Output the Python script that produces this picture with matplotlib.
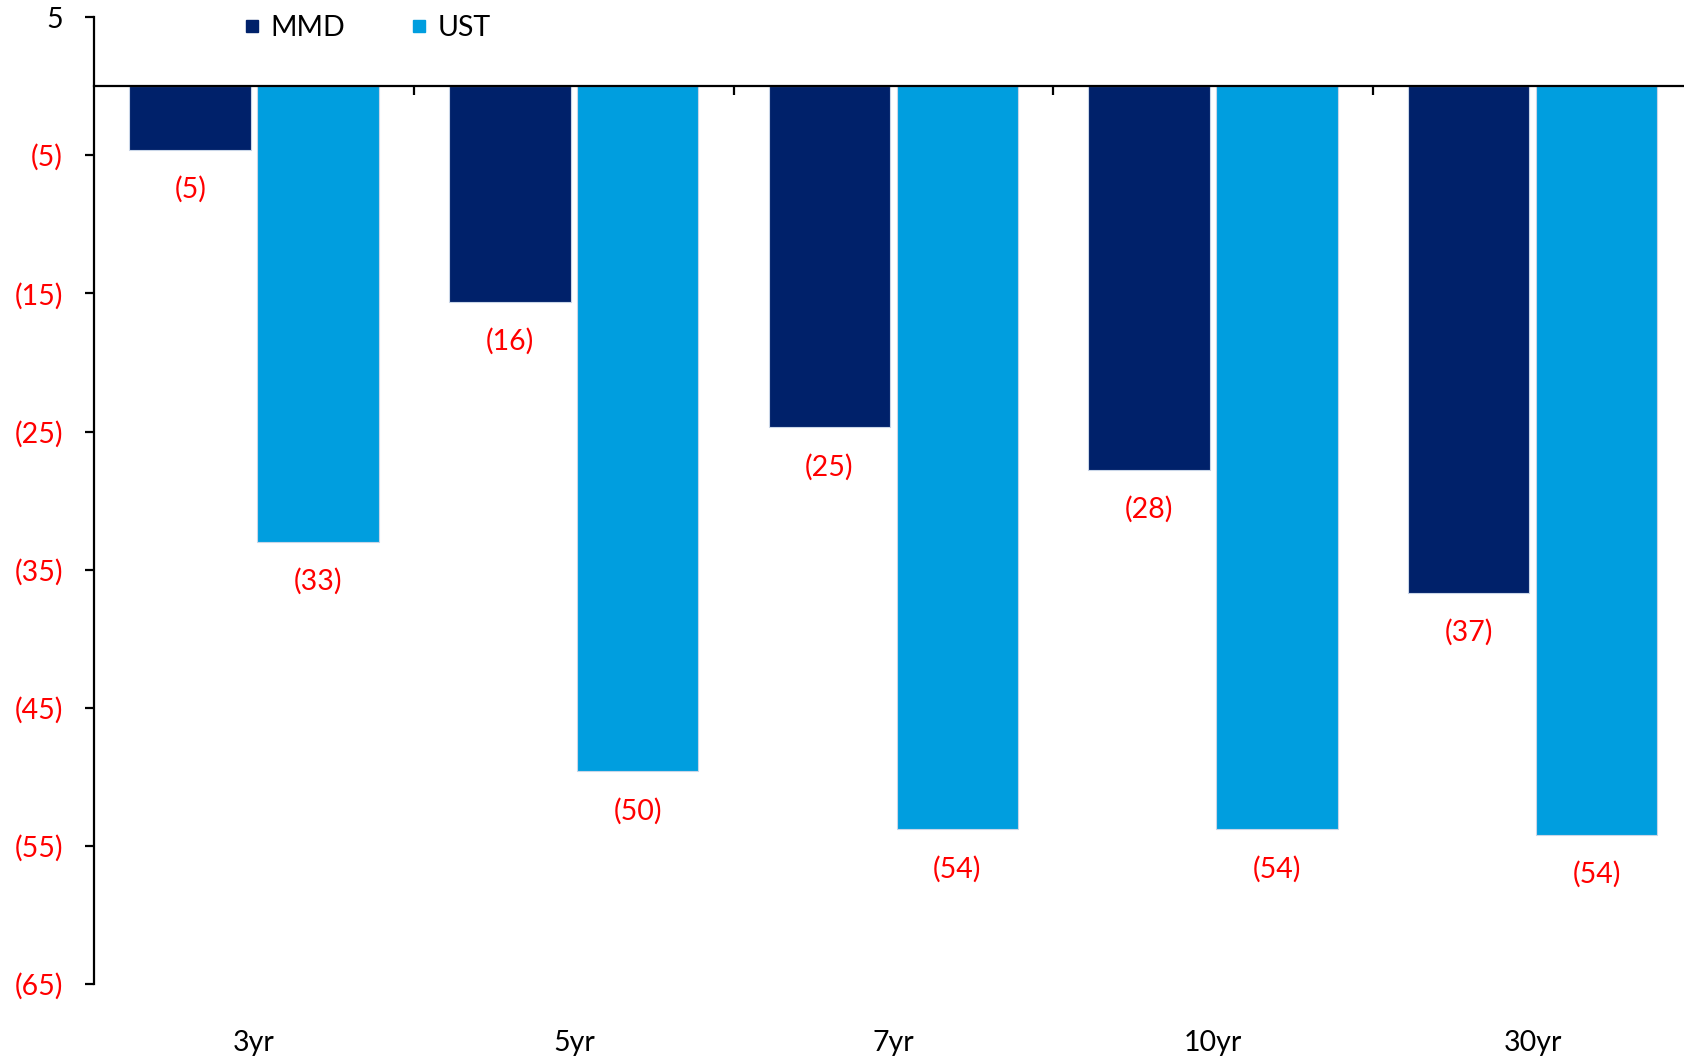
import numpy as np
import matplotlib
matplotlib.use("Agg")
import matplotlib.pyplot as plt
from matplotlib.lines import Line2D

# -----------------------------------------------------------------------------
# DATA
# -----------------------------------------------------------------------------
tenors = ["3yr", "5yr", "7yr", "10yr", "30yr"]
mmd = [-4.6, -15.6, -24.7, -27.8, -36.7]
ust = [-33.0, -49.6, -53.8, -53.8, -54.2]
y_ticks = [5, -5, -15, -25, -35, -45, -55, -65]

# -----------------------------------------------------------------------------
# STYLE
# -----------------------------------------------------------------------------
_MMD = "#00216A"
_UST = "#009EDF"
_RED = "#FF0000"
_EDGE = "#C9D6E8"
_FS = 20.5

plt.rcParams.update({
    "font.family": ["Lato", "DejaVu Sans"],
    "font.size": _FS,
})


def _fmt(v):
    r = int(round(v))
    return f"({abs(r)})" if r < 0 else f"{r}"


fig = plt.figure(figsize=(16.84, 10.60), dpi=100)
ax = fig.add_axes([0.0560, 0.0717, 0.9490, 0.9121])

x = np.arange(len(tenors))
w = 0.38
off = 0.20
ax.bar(x - off, mmd, width=w, color=_MMD, edgecolor=_EDGE, linewidth=0.8,
       zorder=2)
ax.bar(x + off, ust, width=w, color=_UST, edgecolor=_EDGE, linewidth=0.8,
       zorder=2)

# -- data labels ---------------------------------------------------------------
for xs, vals in ((x - off, mmd), (x + off, ust)):
    for xi, v in zip(xs, vals):
        ax.annotate(_fmt(v), xy=(xi, v), xytext=(0, -28.5),
                    textcoords="offset points", ha="center", va="center",
                    color=_RED, fontsize=_FS)

# -- category labels ------------------------------------------------------------
for xi, name in zip(x, tenors):
    ax.text(xi, -69.3, name, ha="center", va="center", color="black",
            fontsize=_FS, clip_on=False)

# -- axes -----------------------------------------------------------------------
ax.set_xlim(-0.5, 4.5)
ax.set_ylim(-65, 5)
ax.set_yticks(y_ticks)
ax.set_yticklabels([_fmt(v) for v in y_ticks])
for lab, v in zip(ax.get_yticklabels(), y_ticks):
    lab.set_color("black" if v > 0 else _RED)

ax.set_xticks(np.arange(0.5, len(tenors), 1.0))
ax.set_xticklabels([])

for s in ("top", "right"):
    ax.spines[s].set_visible(False)
ax.spines["bottom"].set_position(("data", 0))
ax.spines["bottom"].set_linewidth(1.6)
ax.spines["left"].set_linewidth(1.6)
ax.spines["bottom"].set_zorder(3)
ax.tick_params(axis="y", direction="out", length=6.5, width=1.6, pad=16)
ax.tick_params(axis="x", direction="out", length=6.5, width=1.6)

# -- legend ---------------------------------------------------------------------
handles = [
    Line2D([], [], ls="none", marker="s", markersize=8.5, color=_MMD, label="MMD"),
    Line2D([], [], ls="none", marker="s", markersize=8.5, color=_UST, label="UST"),
]
ax.legend(handles=handles, ncol=2, frameon=False, loc="center left",
          bbox_to_anchor=(245 / 1684, 1 - 28 / 1060),
          bbox_transform=fig.transFigure, borderpad=0, borderaxespad=0,
          handlelength=0.5, handletextpad=0.4, columnspacing=2.35,
          fontsize=_FS)

fig.savefig("out.png", dpi=100)
plt.close(fig)
